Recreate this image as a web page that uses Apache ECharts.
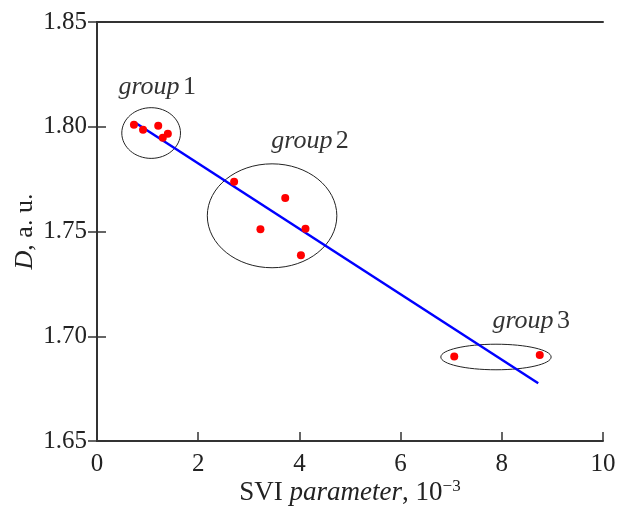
<!DOCTYPE html>
<html>
<head>
<meta charset="utf-8">
<script src="https://cdn.jsdelivr.net/npm/echarts@6/dist/echarts.min.js"></script>
<style>
  html, body { margin: 0; padding: 0; background: #fff; }
  #chart { width: 619px; height: 506px; }
</style>
</head>
<body>
<div id="chart"></div>
<script>
// measured points, SVI parameter (1e-3) vs D
const group1 = [[0.73, 1.801], [0.91, 1.7986], [1.21, 1.8005], [1.30, 1.7948], [1.40, 1.7967]]
const group2 = [[2.71, 1.7737], [3.72, 1.766], [3.23, 1.7511], [4.12, 1.7513], [4.03, 1.7387]]
const group3 = [[7.06, 1.6903], [8.75, 1.691]]
// linear fit, drawn between its end points
const fitLine = [[0.75, 1.802], [8.72, 1.6776]]
// ellipses round each group: [cx, cy, rx, ry]
const groupEllipses = [[1.07, 1.797, 0.58, 0.0121], [3.46, 1.7575, 1.28, 0.0248], [7.885, 1.6901, 1.09, 0.0061]]
const groupNames = ['1', '2', '3']
const groupLabelAt = [[1.19, 1.819], [4.21, 1.7933], [8.58, 1.7071]]

const xTicks = [0, 2, 4, 6, 8, 10]
const yTicks = [1.65, 1.70, 1.75, 1.80, 1.85]

const FONT = '"Liberation Serif", "DejaVu Serif", serif'
const INK = '#333'

const chart = echarts.init(document.getElementById('chart'), null, { renderer: 'canvas' })

const axisCommon = {
  axisLine: { show: true, lineStyle: { color: INK, width: 2 } },
  axisTick: { show: true, inside: true, length: 9, lineStyle: { color: INK, width: 1.5 } },
  splitLine: { show: false }
}

const option = {
  animation: false,
  grid: { left: 97, right: 16, top: 22, bottom: 65, containLabel: false, outerBoundsMode: 'none' },
  xAxis: [
    Object.assign({}, axisCommon, {
      type: 'value', min: xTicks[0], max: xTicks[xTicks.length - 1], interval: 2,
      axisLabel: { color: '#222', fontFamily: FONT, fontSize: 25, margin: 11 },
      name: '{n|SVI }{i|parameter}{n|, 10}{s|−3}',
      nameLocation: 'middle', nameGap: 37, nameMoveOverlap: false,
      nameTextStyle: {
        rich: {
          n: { fontFamily: FONT, fontSize: 27, color: '#222' },
          i: { fontFamily: FONT, fontSize: 27, fontStyle: 'italic', color: '#222' },
          s: { fontFamily: FONT, fontSize: 17, color: '#222', verticalAlign: 'top', padding: [0, 0, 12, 0] }
        }
      }
    }),
    Object.assign({}, axisCommon, {
      type: 'value', position: 'top', min: 0, max: 10, interval: 2,
      axisTick: { show: false }, axisLabel: { show: false }
    })
  ],
  yAxis: [
    Object.assign({}, axisCommon, {
      type: 'value', min: yTicks[0], max: yTicks[yTicks.length - 1], interval: 0.05,
      axisLabel: {
        color: '#222', fontFamily: FONT, fontSize: 25, margin: 10,
        formatter: v => v.toFixed(2)
      },
      name: '{i|D}{n|, a. u.}',
      nameLocation: 'middle', nameGap: 59, nameRotate: 90, nameMoveOverlap: false,
      nameTextStyle: {
        rich: {
          n: { fontFamily: FONT, fontSize: 26, color: '#222' },
          i: { fontFamily: FONT, fontSize: 26, fontStyle: 'italic', color: '#222' }
        }
      }
    }),
    Object.assign({}, axisCommon, {
      type: 'value', position: 'right', min: 1.65, max: 1.85, interval: 0.05,
      axisLabel: { show: false }
    })
  ],
  series: [
    {
      type: 'custom',
      data: groupEllipses.map((e, i) => e.concat(groupLabelAt[i])),
      encode: { x: 0, y: 1 },
      silent: true,
      z: 1,
      renderItem: (params, api) => {
        const c = api.coord([api.value(0), api.value(1)])
        const s = api.size([api.value(2), api.value(3)])
        const t = api.coord([api.value(4), api.value(5)])
        return {
          type: 'group',
          children: [
            {
              type: 'ellipse',
              shape: { cx: c[0], cy: c[1], rx: s[0], ry: s[1] },
              style: { fill: 'none', stroke: '#222', lineWidth: 1 }
            },
            {
              type: 'text',
              x: t[0], y: t[1],
              style: {
                text: '{i|group} {n|' + groupNames[params.dataIndex] + '}',
                align: 'center', verticalAlign: 'middle',
                rich: {
                  i: { fontFamily: FONT, fontSize: 26, fontStyle: 'italic', fill: '#333' },
                  n: { fontFamily: FONT, fontSize: 26, fill: '#333' }
                }
              }
            }
          ]
        }
      }
    },
    {
      type: 'line',
      data: fitLine,
      symbol: 'none',
      lineStyle: { color: '#0000ff', width: 2.5 },
      z: 2
    },
    {
      type: 'scatter',
      data: group1.concat(group2, group3),
      symbol: 'circle',
      symbolSize: 8,
      itemStyle: { color: '#ff0000', opacity: 1 },
      z: 3
    }
  ]
}

chart.setOption(option)
</script>
</body>
</html>
